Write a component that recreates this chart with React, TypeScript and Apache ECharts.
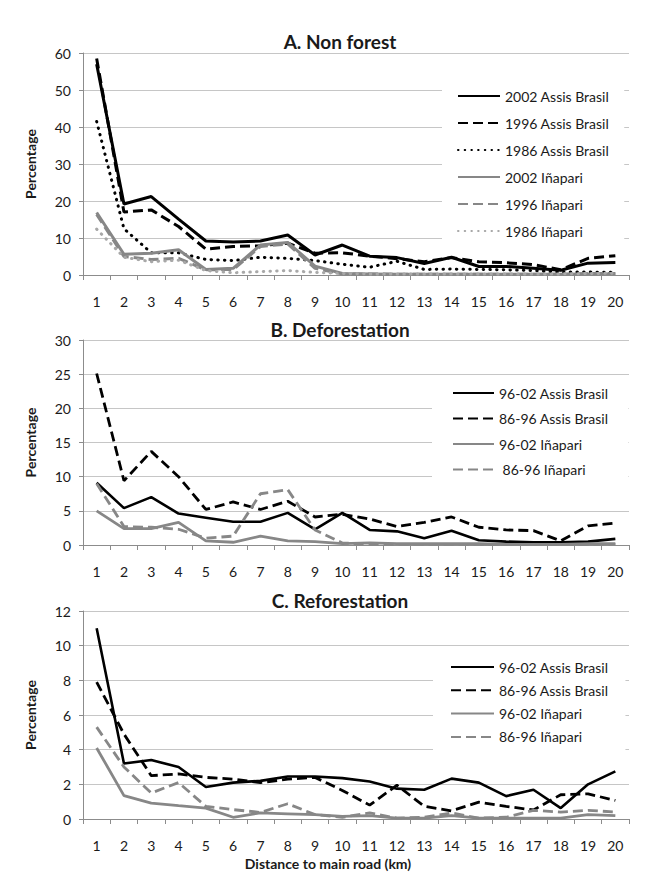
import React, { useEffect, useRef } from 'react';
import * as echarts from 'echarts';

// ---------- data ----------
const distances = ['1', '2', '3', '4', '5', '6', '7', '8', '9', '10', '11', '12', '13', '14', '15', '16', '17', '18', '19', '20'];

// A. Non forest
const nf2002Assis = [57, 19.2, 21.2, 15.1, 9.2, 8.9, 9.2, 10.8, 5.4, 8.1, 5.1, 4.7, 3.1, 4.8, 2.3, 2.3, 1.8, 1.3, 3.2, 3.4];
const nf1996Assis = [58.5, 17, 17.6, 13.1, 7, 7.7, 7.9, 8.6, 5.9, 6, 5.1, 4.4, 3.6, 4.7, 3.6, 3.3, 2.8, 1.4, 4.5, 5.2];
const nf1986Assis = [41.5, 12.5, 6, 6, 4.2, 3.9, 4.8, 4.5, 3.9, 2.9, 2.1, 3.7, 1.5, 1.6, 1.5, 1.4, 1.2, 0.8, 0.8, 0.7];
const nf2002Inapari = [16.9, 5.6, 5.9, 6.8, 1.5, 1.8, 8.1, 8.8, 2.4, 0.4, 0.3, 0.2, 0.2, 0.2, 0.2, 0.2, 0.2, 0.2, 0.3, 0.3];
const nf1996Inapari = [16.4, 5, 4.2, 4.5, 1.4, 1.5, 7.7, 8.4, 1.8, 0.3, 0.3, 0.2, 0.2, 0.2, 0.2, 0.2, 0.2, 0.2, 0.4, 0.4];
const nf1986Inapari = [12.4, 4.8, 3.6, 4, 1.2, 0.6, 0.9, 1.2, 0.7, 0.4, 0.3, 0.3, 0.3, 0.3, 0.3, 0.3, 0.3, 0.3, 0.4, 0.5];

// B. Deforestation
const df9602Assis = [9.1, 5.4, 7, 4.6, 4, 3.4, 3.4, 4.7, 2.3, 4.7, 2.2, 2, 1, 2.1, 0.7, 0.5, 0.4, 0.4, 0.5, 0.9];
const df8696Assis = [25.1, 9.4, 13.7, 10, 5.2, 6.3, 5.2, 6.4, 4.1, 4.5, 3.8, 2.7, 3.3, 4.1, 2.6, 2.2, 2.1, 0.6, 2.8, 3.2];
const df9602Inapari = [5, 2.4, 2.4, 3.3, 0.6, 0.4, 1.3, 0.6, 0.5, 0.2, 0.3, 0.2, 0.2, 0.2, 0.2, 0.1, 0.1, 0.1, 0.2, 0.2];
const df8696Inapari = [9, 2.7, 2.6, 2.3, 1, 1.3, 7.5, 8.1, 2.2, 0.3, 0.1, 0.1, 0.1, 0.1, 0.1, 0.1, 0.1, 0.1, 0.1, 0.1];

// C. Reforestation
const rf9602Assis = [11, 3.2, 3.4, 3, 1.85, 2.1, 2.2, 2.45, 2.45, 2.36, 2.16, 1.75, 1.69, 2.33, 2.1, 1.32, 1.69, 0.63, 2, 2.75];
const rf8696Assis = [7.9, 4.9, 2.5, 2.6, 2.4, 2.3, 2.1, 2.3, 2.4, 1.65, 0.8, 1.95, 0.73, 0.47, 0.97, 0.73, 0.52, 1.4, 1.45, 1.07];
const rf9602Inapari = [4.1, 1.35, 0.92, 0.77, 0.63, 0.1, 0.35, 0.3, 0.25, 0.15, 0.2, 0.05, 0.05, 0.2, 0.05, 0.05, 0.05, 0.05, 0.25, 0.2];
const rf8696Inapari = [5.3, 3, 1.5, 2.1, 0.73, 0.54, 0.38, 0.88, 0.25, 0.1, 0.35, 0.05, 0.1, 0.35, 0.05, 0.1, 0.5, 0.4, 0.5, 0.4];

const titleA = 'A. Non forest';
const titleB = 'B. Deforestation';
const titleC = 'C. Reforestation';
const yName = 'Percentage';
const xName = 'Distance to main road (km)';

// ---------- styles ----------
const FONT = 'Lato, "Open Sans", sans-serif';
const BLACK = '#000000';
const GRAY = '#878787';
const LIGHT = '#a8a8a8';
const AXIS = '#8c8c8c';
const GRID = '#c6c6c6';
const TEXT = '#1a1a1a';

type Kind = 'solid' | 'dash' | 'dot';

function lineSeries(name: string, data: number[], color: string, kind: Kind, width = 3) {
  const lineStyle: any = { color, width };
  if (kind === 'solid') lineStyle.type = 'solid';
  if (kind === 'dash') lineStyle.type = [10, 5];
  if (kind === 'dot') {
    lineStyle.type = [0.5, 6.2];
    lineStyle.cap = 'round';
  }
  return {
    type: 'line',
    name,
    data,
    symbol: 'none',
    showSymbol: false,
    smooth: false,
    silent: true,
    lineStyle,
    itemStyle: { color },
    emphasis: { disabled: true },
  };
}

interface PanelCfg {
  height: number;
  gridTop: number;
  gridHeight: number;
  max: number;
  interval: number;
  title: string;
  titleY: number;
  legend: any;
  series: any[];
  extraGraphic?: any[];
}

function buildOption(cfg: PanelCfg) {
  return {
    animation: false,
    textStyle: { fontFamily: FONT },
    grid: { left: 83, right: 20, top: cfg.gridTop, height: cfg.gridHeight },
    graphic: [
      {
        type: 'text',
        x: 340,
        y: cfg.titleY,
        style: {
          text: cfg.title,
          textAlign: 'center',
          textVerticalAlign: 'middle',
          fontFamily: FONT,
          fontWeight: 'bold',
          fontSize: 19,
          fill: TEXT,
        },
      },
      ...(cfg.extraGraphic || []),
    ],
    legend: {
      orient: 'vertical',
      itemWidth: 42,
      itemHeight: 14,
      backgroundColor: '#ffffff',
      borderWidth: 0,
      selectedMode: false,
      itemStyle: { opacity: 0, borderWidth: 0 },
      textStyle: { fontFamily: FONT, fontSize: 14, color: TEXT },
      ...cfg.legend,
    },
    xAxis: {
      type: 'category',
      data: distances,
      boundaryGap: true,
      axisLine: { show: true, lineStyle: { color: AXIS, width: 1 } },
      axisTick: { show: true, length: 5, interval: 0, lineStyle: { color: AXIS } },
      axisLabel: { margin: 19, fontSize: 14, color: TEXT, interval: 0, fontFamily: FONT },
      splitLine: { show: false },
    },
    yAxis: {
      type: 'value',
      min: 0,
      max: cfg.max,
      interval: cfg.interval,
      name: yName,
      nameLocation: 'middle',
      nameGap: 46,
      nameTextStyle: { fontFamily: FONT, fontWeight: 'bold', fontSize: 14, color: TEXT },
      axisLine: { show: true, lineStyle: { color: AXIS, width: 1 } },
      axisTick: { show: true, length: 4, lineStyle: { color: AXIS } },
      axisLabel: { margin: 12, fontSize: 14, color: TEXT, fontFamily: FONT },
      splitLine: { show: true, lineStyle: { color: GRID, width: 1 } },
    },
    series: cfg.series,
  };
}

const panelA: PanelCfg = {
  height: 312,
  gridTop: 53,
  gridHeight: 222,
  max: 60,
  interval: 10,
  title: titleA,
  titleY: 41,
  legend: { left: 442, top: 79, padding: [10, 15, 10, 15], itemGap: 13 },
  series: [
    lineSeries('2002 Assis Brasil', nf2002Assis, BLACK, 'solid', 3),
    lineSeries('1996 Assis Brasil', nf1996Assis, BLACK, 'dash', 3),
    lineSeries('1986 Assis Brasil', nf1986Assis, BLACK, 'dot', 3),
    lineSeries('2002 Iñapari', nf2002Inapari, GRAY, 'solid', 3),
    lineSeries('1996 Iñapari', nf1996Inapari, GRAY, 'dash', 3),
    lineSeries('1986 Iñapari', nf1986Inapari, LIGHT, 'dot', 3),
  ],
};

const panelB: PanelCfg = {
  height: 270,
  gridTop: 28,
  gridHeight: 205,
  max: 30,
  interval: 5,
  title: titleB,
  titleY: 17,
  legend: { left: 432, top: 68, padding: [6, 20, 8, 20], itemGap: 11.5, itemWidth: 41 },
  series: [
    lineSeries('96-02 Assis Brasil', df9602Assis, BLACK, 'solid', 2.6),
    lineSeries('86-96 Assis Brasil', df8696Assis, BLACK, 'dash', 2.8),
    lineSeries('96-02 Iñapari', df9602Inapari, GRAY, 'solid', 2.8),
    lineSeries(' 86-96 Iñapari', df8696Inapari, GRAY, 'dash', 2.8),
  ],
};

const panelC: PanelCfg = {
  height: 304,
  gridTop: 29,
  gridHeight: 208,
  max: 12,
  interval: 2,
  title: titleC,
  titleY: 18,
  legend: { left: 433, top: 70, padding: [8, 17, 6, 17], itemGap: 9.3, itemWidth: 43 },
  series: [
    lineSeries('96-02 Assis Brasil', rf9602Assis, BLACK, 'solid', 2.6),
    lineSeries('86-96 Assis Brasil', rf8696Assis, BLACK, 'dash', 2.8),
    lineSeries('96-02 Iñapari', rf9602Inapari, GRAY, 'solid', 2.8),
    lineSeries('86-96 Iñapari', rf8696Inapari, GRAY, 'dash', 2.8),
  ],
  extraGraphic: [
    {
      type: 'text',
      x: 328,
      y: 281,
      style: {
        text: xName,
        textAlign: 'center',
        textVerticalAlign: 'middle',
        fontFamily: FONT,
        fontWeight: 'bold',
        fontSize: 14,
        fill: TEXT,
      },
    },
  ],
};

function Panel({ cfg, top }: { cfg: PanelCfg; top: number }) {
  const ref = useRef<HTMLDivElement>(null);
  useEffect(() => {
    if (!ref.current) return;
    const chart = echarts.init(ref.current, undefined, { renderer: 'svg' });
    chart.setOption(buildOption(cfg) as any);
    return () => chart.dispose();
  }, [cfg]);
  return (
    <div
      ref={ref}
      style={{ position: 'absolute', left: 0, top, width: 649, height: cfg.height }}
    />
  );
}

export default function App() {
  return (
    <div style={{ position: 'absolute', left: 0, top: 0, width: 649, height: 886, background: '#ffffff' }}>
      <Panel cfg={panelA} top={0} />
      <Panel cfg={panelB} top={312} />
      <Panel cfg={panelC} top={582} />
    </div>
  );
}
